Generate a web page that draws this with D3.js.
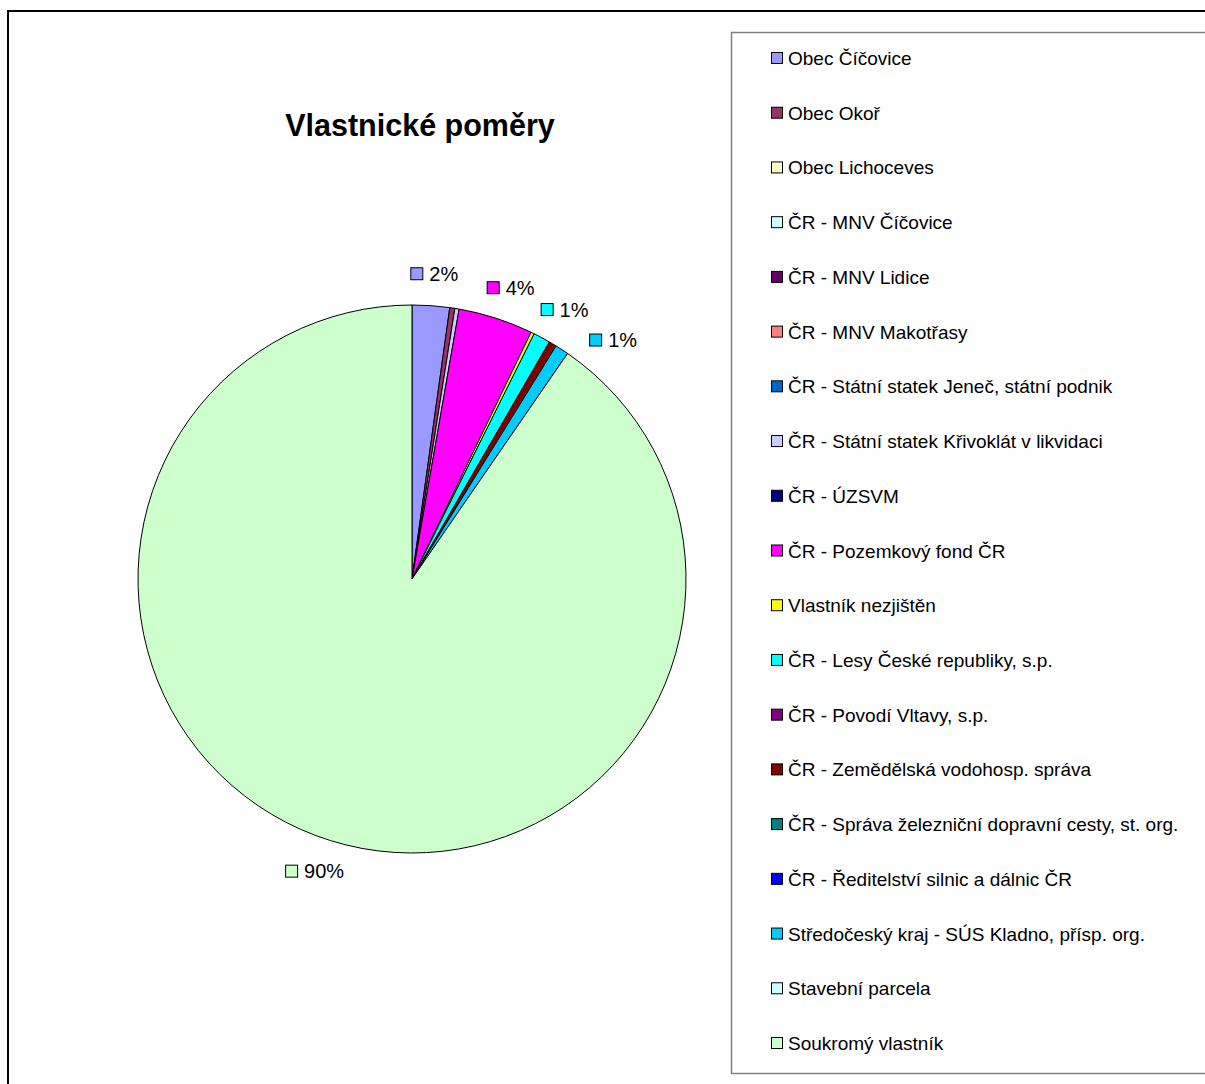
<!DOCTYPE html>
<html><head><meta charset="utf-8">
<script src="https://cdn.jsdelivr.net/npm/d3@7"></script>
<style>html,body{margin:0;padding:0;background:#fff;overflow:hidden}</style>
</head><body>
<svg id="c" width="1205" height="1084"></svg>
<script>
const title = "Vlastnické poměry";
const categories = [
  "Obec Číčovice",
  "Obec Okoř",
  "Obec Lichoceves",
  "ČR - MNV Číčovice",
  "ČR - MNV Lidice",
  "ČR - MNV Makotřasy",
  "ČR - Státní statek Jeneč, státní podnik",
  "ČR - Státní statek Křivoklát v likvidaci",
  "ČR - ÚZSVM",
  "ČR - Pozemkový fond ČR",
  "Vlastník nezjištěn",
  "ČR - Lesy České republiky, s.p.",
  "ČR - Povodí Vltavy, s.p.",
  "ČR - Zemědělská vodohosp. správa",
  "ČR - Správa železniční dopravní cesty, st. org.",
  "ČR - Ředitelství silnic a dálnic ČR",
  "Středočeský kraj - SÚS Kladno, přísp. org.",
  "Stavební parcela",
  "Soukromý vlastník"
];
// share in percent
const values = [2.2, 0.3, 0, 0, 0, 0, 0, 0.25, 0, 4.4, 0.2, 1.0, 0, 0.45, 0, 0, 0.8, 0, 90.3];
const colors = ["#9999FF","#993366","#FFFFCC","#CCFFFF","#660066","#FF8080","#0066CC","#CCCCFF",
  "#000080","#FF00FF","#FFFF00","#00FFFF","#800080","#800000","#008080","#0000FF","#00CCFF","#CCFFFF","#CCFFCC"];
// which slices carry a percentage label
const labelled = [true,false,false,false,false,false,false,false,false,true,false,true,false,false,false,false,true,false,true];

const svg = d3.select("#c");
const FONT = "'Liberation Sans', Arial, sans-serif";

// outer chart frame
svg.append("rect").attr("x",8).attr("y",11).attr("width",1210).attr("height",1090)
  .attr("fill","none").attr("stroke","#000").attr("stroke-width",2);

// title
svg.append("text").attr("x",420).attr("y",136).attr("text-anchor","middle")
  .attr("font-family",FONT).attr("font-weight","bold").attr("font-size",30.5)
  .text(title);

// pie
const cx = 412, cy = 579, R = 274;
const total = d3.sum(values);
const data = categories.map((c,i)=>({name:c, value:values[i], color:colors[i], lab:labelled[i]}));
const pie = d3.pie().value(d=>d.value).sort(null);
const arcs = pie(data);
const arc = d3.arc().innerRadius(0).outerRadius(R);
const g = svg.append("g").attr("transform",`translate(${cx},${cy})`);
g.selectAll("path").data(arcs.filter(a=>a.data.value>0)).join("path")
  .attr("d",arc).attr("fill",d=>d.data.color).attr("stroke","#000").attr("stroke-width",1);

// data labels (outside end, pushed clockwise when they collide)
const fmt = d => Math.round(d.data.value/total*100) + "%";
const lblFont = 20, keyS = 12, gap = 7, G = 24, hBox = 16, hSep = 30;
const placed = [];
arcs.filter(a=>a.data.lab).forEach(a=>{
  const txt = fmt(a);
  const lg = g.append("g");
  lg.append("rect").attr("x",0.5).attr("y",-keyS/2).attr("width",keyS).attr("height",keyS)
    .attr("fill",a.data.color).attr("stroke","#000").attr("stroke-width",1);
  const t = lg.append("text").attr("x",keyS+gap).attr("y",7).attr("font-family",FONT)
    .attr("font-size",lblFont).attr("fill","#000").text(txt);
  const w = keyS + gap + t.node().getComputedTextLength();
  let th = (a.startAngle + a.endAngle)/2;
  const pos = ang => {
    const s = Math.sin(ang), c = -Math.cos(ang);
    return [s*(R+G) + s*w/2, c*(R+G) + c*hBox/2];
  };
  let p = pos(th);
  const clash = q => placed.some(o => Math.abs(o.x-q[0]) < (o.w+w)/2 && Math.abs(o.y-q[1]) < hSep);
  let k = 0;
  while (clash(p) && k < 200) { th += Math.PI/360; p = pos(th); k++; }
  placed.push({x:p[0], y:p[1], w});
  lg.attr("transform",`translate(${p[0]-w/2},${p[1]})`);
});

// legend
const lx = 731, ly = 32;
svg.append("rect").attr("x",lx+0.5).attr("y",ly+0.5).attr("width",600).attr("height",1041)
  .attr("fill","#fff").attr("stroke","#808080").attr("stroke-width",1.5);
const yL = d3.scalePoint().domain(categories).range([58,1043]);
const li = svg.append("g").selectAll("g").data(data).join("g")
  .attr("transform",d=>`translate(771,${yL(d.name)})`);
li.append("rect").attr("x",0.5).attr("y",-5.5).attr("width",11).attr("height",11)
  .attr("fill",d=>d.color).attr("stroke","#000").attr("stroke-width",1);
li.append("text").attr("x",17).attr("y",7).attr("font-family",FONT).attr("font-size",19)
  .attr("fill","#000").text(d=>d.name);
</script>
</body></html>
